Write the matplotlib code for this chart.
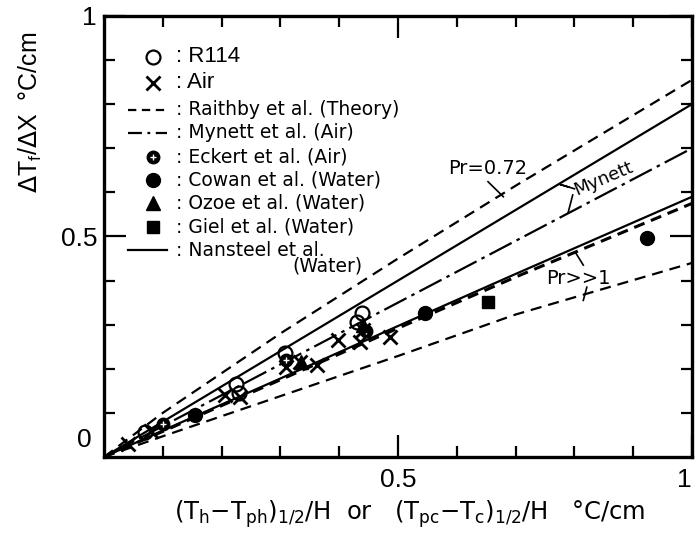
import numpy as np
import matplotlib
matplotlib.use('Agg')
import matplotlib.pyplot as plt

plt.rcParams['lines.scale_dashes'] = False
narrow = ['Liberation Sans Narrow', 'DejaVu Sans']
arial = ['Liberation Sans', 'DejaVu Sans']

# lines
x_line = [0, 0.1, 0.3, 0.5, 0.7, 1.0]
raithby_air = [0, 0.10, 0.28, 0.45, 0.615, 0.855]
nansteel_air = [0, 0.08, 0.24, 0.40, 0.56, 0.80]
mynett_air = [0, 0.07, 0.21, 0.35, 0.49, 0.70]
nansteel_water = [0, 0.06, 0.178, 0.297, 0.415, 0.59]
raithby_water = [0, 0.058, 0.175, 0.292, 0.408, 0.575]
raithby_low = [0, 0.047, 0.138, 0.229, 0.323, 0.44]

# data points
r114_x = [0.07, 0.225, 0.23, 0.308, 0.43, 0.438]
r114_y = [0.057, 0.165, 0.145, 0.236, 0.306, 0.326]
air_x = [0.04, 0.08, 0.205, 0.231, 0.31, 0.333, 0.362, 0.398, 0.435, 0.44, 0.486]
air_y = [0.03, 0.06, 0.14, 0.136, 0.205, 0.215, 0.209, 0.265, 0.26, 0.288, 0.272]
eckert_x = [0.1, 0.31, 0.445]
eckert_y = [0.075, 0.22, 0.285]
cowan_x = [0.155, 0.546, 0.923]
cowan_y = [0.095, 0.326, 0.497]
ozoe_x = [0.335, 0.44]
ozoe_y = [0.215, 0.30]
giel_x = [0.653]
giel_y = [0.351]

fig = plt.figure(figsize=(6.96, 5.36), dpi=100)
ax = fig.add_axes([0.1494, 0.1474, 0.845, 0.823])

lw = 1.6
dash = (8, 5)
dashdot = (18, 4, 2.5, 4)
ax.plot(x_line, raithby_air, color='k', lw=lw, dashes=dash)
ax.plot(x_line, nansteel_air, color='k', lw=lw)
ax.plot(x_line, mynett_air, color='k', lw=lw, dashes=dashdot)
ax.plot(x_line, nansteel_water, color='k', lw=lw)
ax.plot(x_line, raithby_water, color='k', lw=lw + 0.6, dashes=dash)
ax.plot(x_line, raithby_low, color='k', lw=lw, dashes=dash)

ax.plot(r114_x, r114_y, 'o', ms=10, mfc='none', mec='k', mew=1.6)
ax.plot(air_x, air_y, 'x', ms=10, mec='k', mew=2)
ax.plot(eckert_x, eckert_y, 'o', ms=9, color='k')
ax.plot(eckert_x, eckert_y, '+', ms=4, mec='w', mew=1)
ax.plot(cowan_x, cowan_y, 'o', ms=10, color='k')
ax.plot(ozoe_x, ozoe_y, '^', ms=10, color='k')
ax.plot(giel_x, giel_y, 's', ms=8, color='k')

# annotations
ax.text(0.653, 0.655, 'Pr=0.72', fontsize=14, family=narrow, ha='center', va='center')
ax.plot([0.653, 0.679], [0.624, 0.59], color='k', lw=1.2)
ax.text(0.85, 0.632, 'Mynett', fontsize=13, family=narrow, ha='center', va='center', rotation=23)
ax.plot([0.80, 0.775, 0.79], [0.608, 0.618, 0.612], color='k', lw=1.2)
ax.plot([0.797, 0.789], [0.594, 0.553], color='k', lw=1.2)
ax.text(0.806, 0.405, 'Pr>>1', fontsize=14, family=narrow, ha='center', va='center')
ax.plot([0.815, 0.801], [0.435, 0.465], color='k', lw=1.2)
ax.plot([0.821, 0.815], [0.385, 0.355], color='k', lw=1.2)

# hand-made legend
sym_x = 0.083
txt_x = 0.122
rows = [0.907, 0.848, 0.787, 0.735, 0.680, 0.628, 0.576, 0.522, 0.469]
labels = [': R114', ': Air', ': Raithby et al. (Theory)', ': Mynett et al. (Air)',
          ': Eckert et al. (Air)', ': Cowan et al. (Water)', ': Ozoe et al. (Water)',
          ': Giel et al. (Water)', ': Nansteel et al.']
ax.plot(sym_x, rows[0], 'o', ms=10, mfc='none', mec='k', mew=1.6)
ax.plot(sym_x, rows[1], 'x', ms=10, mec='k', mew=2)
ax.plot([0.041, 0.107], [rows[2], rows[2]], color='k', lw=lw, dashes=(6, 4))
ax.plot([0.041, 0.107], [rows[3], rows[3]], color='k', lw=lw, dashes=(10, 4, 2, 4))
ax.plot(sym_x, rows[4], 'o', ms=9, color='k')
ax.plot(sym_x, rows[4], '+', ms=4, mec='w', mew=1)
ax.plot(sym_x, rows[5], 'o', ms=10, color='k')
ax.plot(sym_x, rows[6], '^', ms=10, color='k')
ax.plot(sym_x, rows[7], 's', ms=8, color='k')
ax.plot([0.041, 0.107], [rows[8], rows[8]], color='k', lw=lw)
for i, lab in enumerate(labels):
    if i < 2:
        ax.text(txt_x, rows[i], lab, fontsize=16, family=arial, va='center')
    else:
        ax.text(txt_x, rows[i], lab, fontsize=13.5, family=narrow, va='center')
ax.text(0.321, 0.432, '(Water)', fontsize=13.5, family=narrow, va='center')

ax.set_xlim(0, 1)
ax.set_ylim(0, 1)
ax.set_xticks([0.5, 1])
ax.set_xticklabels(['0.5', '1'])
ax.set_xticks(np.arange(0.1, 1, 0.1), minor=True)
ax.set_yticks([0.5, 1])
ax.set_yticklabels(['0.5', '1'])
ax.set_yticks(np.arange(0.1, 1, 0.1), minor=True)
ax.tick_params(which='both', direction='in', top=True, right=True, width=1.6, colors='k')
ax.tick_params(which='major', length=16, labelsize=19)
ax.tick_params(axis='x', which='major', pad=8)
ax.tick_params(axis='y', which='major', pad=5)
ax.tick_params(which='minor', length=8)
for lab in ax.get_xticklabels() + ax.get_yticklabels():
    lab.set_family(arial)
ax.get_xticklabels()[1].set_ha('right')
ax.text(-0.033, 0.038, '0', fontsize=19, family=arial, ha='center', va='center')
for sp in ax.spines.values():
    sp.set_linewidth(2.4)

fig.text(30 / 696, 1 - 112 / 536, r'$\Delta$T$_\mathregular{f}$/$\Delta$X  °C/cm',
         fontsize=18, family=arial, rotation=90, ha='center', va='center')
fig.text(410 / 696, 1 - 514 / 536,
         r'(T$_\mathregular{h}$$-$T$_\mathregular{ph}$)$_\mathregular{1/2}$/H  or   '
         r'(T$_\mathregular{pc}$$-$T$_\mathregular{c}$)$_\mathregular{1/2}$/H   °C/cm',
         fontsize=17.5, family=narrow, ha='center', va='center')

fig.savefig('out.png', dpi=100)
